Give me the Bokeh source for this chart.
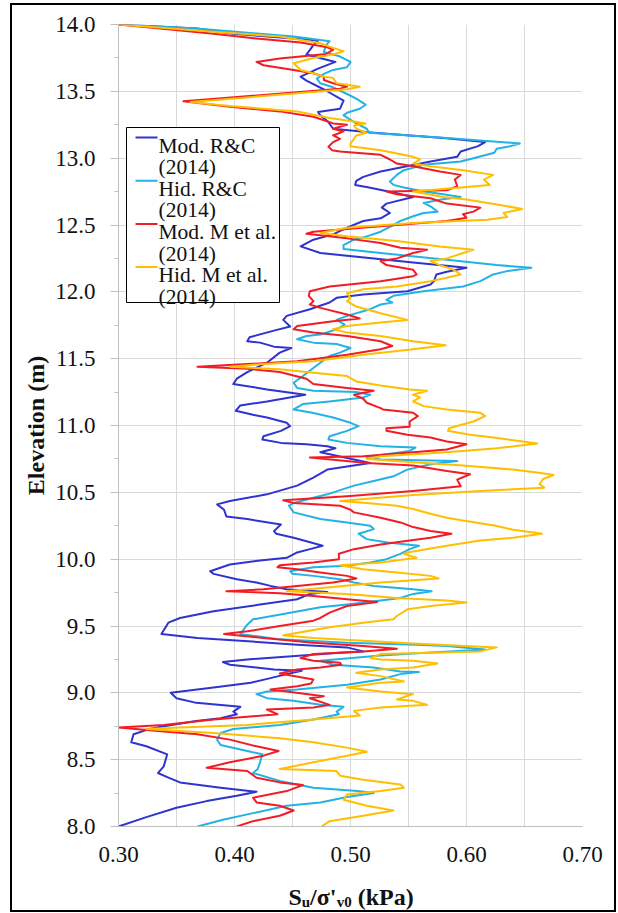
from bokeh.plotting import figure
from bokeh.layouts import column
from bokeh.models import FixedTicker, Range1d, NumeralTickFormatter
from bokeh.core.properties import value
from bokeh.embed import file_html
from bokeh.resources import INLINE

# ---------------- data ----------------
mod_rc_elev = [14.0, 13.97, 13.93, 13.895, 13.88, 13.845, 13.775, 13.72, 13.67, 13.61,
               13.58, 13.51, 13.43, 13.37, 13.345, 13.32, 13.27, 13.22, 13.19, 13.15,
               13.12, 13.09, 13.05, 13.01, 12.975, 12.90, 12.86, 12.83, 12.80, 12.78,
               12.74, 12.71, 12.66, 12.63, 12.59, 12.55, 12.53, 12.48, 12.43, 12.39,
               12.34, 12.29, 12.27, 12.22, 12.18, 12.15, 12.13, 12.08, 12.055, 12.005,
               11.98, 11.955, 11.92, 11.87, 11.82, 11.79, 11.74, 11.71, 11.66, 11.63,
               11.62, 11.59, 11.58, 11.545, 11.47, 11.42, 11.40, 11.35, 11.31, 11.30,
               11.27, 11.23, 11.18, 11.15, 11.11, 11.08, 11.06, 11.02, 10.995, 10.96,
               10.92, 10.895, 10.87, 10.86, 10.845, 10.83, 10.80, 10.72, 10.67, 10.61,
               10.55, 10.485, 10.435, 10.41, 10.37, 10.32, 10.30, 10.26, 10.21, 10.19,
               10.16, 10.125, 10.10, 10.075, 10.05, 10.01, 9.99, 9.96, 9.91, 9.89,
               9.85, 9.825, 9.80, 9.775, 9.755, 9.74, 9.70, 9.66, 9.61, 9.56,
               9.525, 9.44, 9.41, 9.39, 9.36, 9.34, 9.31, 9.30, 9.25, 9.23,
               9.21, 9.175, 9.165, 9.14, 9.11, 9.075, 9.04, 9.0, 8.96, 8.925,
               8.895, 8.86, 8.84, 8.81, 8.79, 8.75, 8.73, 8.69, 8.63, 8.60,
               8.54, 8.45, 8.40, 8.37, 8.33, 8.29, 8.26, 8.23, 8.19, 8.14,
               8.07, 8.0]
mod_rc = [0.300, 0.3675, 0.399, 0.451, 0.472, 0.468, 0.462, 0.487, 0.472, 0.457,
          0.462, 0.478, 0.494, 0.491, 0.472, 0.474, 0.481, 0.485, 0.520, 0.580,
          0.616, 0.610, 0.595, 0.592, 0.569, 0.526, 0.511, 0.505, 0.504, 0.516,
          0.539, 0.554, 0.531, 0.527, 0.534, 0.526, 0.511, 0.497, 0.485, 0.468,
          0.457, 0.474, 0.497, 0.554, 0.600, 0.583, 0.574, 0.572, 0.569, 0.549,
          0.511, 0.488, 0.482, 0.465, 0.445, 0.442, 0.448, 0.434, 0.413, 0.411,
          0.422, 0.434, 0.449, 0.439, 0.428, 0.416, 0.411, 0.402, 0.399, 0.407,
          0.428, 0.461, 0.428, 0.405, 0.401, 0.416, 0.428, 0.445, 0.448, 0.440,
          0.425, 0.424, 0.440, 0.462, 0.480, 0.487, 0.474, 0.517, 0.480, 0.468,
          0.454, 0.428, 0.396, 0.385, 0.391, 0.393, 0.411, 0.440, 0.434, 0.436,
          0.451, 0.466, 0.476, 0.465, 0.454, 0.445, 0.422, 0.396, 0.379, 0.382,
          0.402, 0.419, 0.431, 0.445, 0.480, 0.465, 0.454, 0.422, 0.382, 0.353,
          0.343, 0.337, 0.368, 0.405, 0.454, 0.497, 0.511, 0.491, 0.411, 0.390,
          0.396, 0.434, 0.458, 0.445, 0.431, 0.414, 0.382, 0.345, 0.350, 0.367,
          0.405, 0.399, 0.402, 0.388, 0.367, 0.339, 0.327, 0.313, 0.311, 0.324,
          0.342, 0.339, 0.334, 0.342, 0.353, 0.388, 0.419, 0.402, 0.376, 0.350,
          0.324, 0.300]

hid_rc_elev = [14.0, 13.97, 13.91, 13.875, 13.845, 13.795, 13.76, 13.72, 13.68, 13.66,
               13.63, 13.595, 13.56, 13.53, 13.48, 13.445, 13.40, 13.37, 13.34, 13.32,
               13.26, 13.22, 13.19, 13.15, 13.11, 13.09, 13.07, 13.04, 13.00, 12.975,
               12.95, 12.91, 12.875, 12.825, 12.80, 12.78, 12.75, 12.73, 12.71, 12.69,
               12.665, 12.64, 12.60, 12.59, 12.565, 12.53, 12.50, 12.45, 12.415, 12.39,
               12.35, 12.32, 12.29, 12.24, 12.20, 12.18, 12.155, 12.13, 12.08, 12.04,
               12.005, 11.97, 11.94, 11.92, 11.905, 11.87, 11.82, 11.79, 11.755, 11.72,
               11.68, 11.67, 11.645, 11.62, 11.61, 11.58, 11.545, 11.52, 11.47, 11.43,
               11.37, 11.32, 11.28, 11.26, 11.25, 11.23, 11.21, 11.18, 11.16, 11.12,
               11.095, 11.06, 11.02, 10.995, 10.96, 10.92, 10.895, 10.87, 10.845, 10.835,
               10.81, 10.78, 10.76, 10.745, 10.735, 10.71, 10.67, 10.62, 10.585, 10.55,
               10.485, 10.46, 10.42, 10.40, 10.35, 10.30, 10.275, 10.25, 10.225, 10.19,
               10.15, 10.125, 10.10, 10.075, 10.04, 10.00, 9.975, 9.95, 9.94, 9.91,
               9.89, 9.875, 9.85, 9.825, 9.80, 9.775, 9.76, 9.74, 9.71, 9.69,
               9.66, 9.64, 9.59, 9.55, 9.51, 9.44, 9.40, 9.375, 9.36, 9.35,
               9.325, 9.295, 9.28, 9.24, 9.21, 9.19, 9.16, 9.155, 9.14, 9.10,
               9.06, 9.025, 9.01, 8.99, 8.96, 8.94, 8.91, 8.895, 8.86, 8.84,
               8.80, 8.76, 8.73, 8.70, 8.65, 8.61, 8.565, 8.54, 8.48, 8.43,
               8.40, 8.34, 8.29, 8.265, 8.25, 8.22, 8.18, 8.155, 8.10, 8.05,
               8.00]
hid_rc = [0.300, 0.3675, 0.451, 0.482, 0.479, 0.477, 0.491, 0.500, 0.497, 0.485,
          0.477, 0.471, 0.474, 0.485, 0.497, 0.505, 0.513, 0.508, 0.497, 0.494,
          0.505, 0.514, 0.516, 0.583, 0.646, 0.638, 0.626, 0.624, 0.606, 0.595,
          0.563, 0.546, 0.540, 0.534, 0.537, 0.546, 0.563, 0.580, 0.595, 0.578,
          0.563, 0.569, 0.575, 0.563, 0.554, 0.543, 0.537, 0.526, 0.514, 0.503,
          0.494, 0.494, 0.526, 0.583, 0.626, 0.656, 0.635, 0.623, 0.612, 0.597,
          0.563, 0.537, 0.531, 0.536, 0.526, 0.517, 0.497, 0.488, 0.495, 0.488,
          0.474, 0.462, 0.454, 0.468, 0.488, 0.500, 0.491, 0.482, 0.474, 0.468,
          0.459, 0.451, 0.454, 0.468, 0.505, 0.517, 0.511, 0.482, 0.459, 0.451,
          0.467, 0.485, 0.500, 0.507, 0.497, 0.482, 0.481, 0.497, 0.526, 0.556,
          0.551, 0.526, 0.514, 0.526, 0.592, 0.569, 0.549, 0.537, 0.520, 0.503,
          0.480, 0.468, 0.451, 0.447, 0.451, 0.474, 0.497, 0.517, 0.520, 0.507,
          0.514, 0.532, 0.559, 0.551, 0.543, 0.531, 0.517, 0.497, 0.468, 0.448,
          0.450, 0.468, 0.491, 0.503, 0.520, 0.554, 0.570, 0.554, 0.543, 0.526,
          0.497, 0.474, 0.442, 0.416, 0.411, 0.405, 0.439, 0.497, 0.557, 0.583,
          0.616, 0.554, 0.526, 0.474, 0.485, 0.520, 0.543, 0.559, 0.543, 0.526,
          0.497, 0.454, 0.428, 0.419, 0.428, 0.451, 0.474, 0.494, 0.488, 0.490,
          0.468, 0.439, 0.399, 0.388, 0.385, 0.388, 0.411, 0.424, 0.422, 0.420,
          0.416, 0.439, 0.468, 0.506, 0.520, 0.497, 0.474, 0.445, 0.416, 0.390,
          0.368]

mod_m_elev = [14.0, 13.93, 13.895, 13.865, 13.83, 13.81, 13.78, 13.77, 13.745, 13.72,
              13.695, 13.66, 13.635, 13.61, 13.585, 13.56, 13.535, 13.52, 13.425, 13.385,
              13.35, 13.31, 13.26, 13.25, 13.22, 13.20, 13.17, 13.145, 13.12, 13.085,
              13.06, 13.05, 13.025, 12.99, 12.96, 12.94, 12.90, 12.875, 12.84, 12.79,
              12.76, 12.755, 12.75, 12.73, 12.70, 12.66, 12.63, 12.60, 12.58, 12.555,
              12.53, 12.49, 12.45, 12.435, 12.40, 12.365, 12.33, 12.315, 12.29, 12.25,
              12.23, 12.20, 12.165, 12.13, 12.117, 12.08, 12.04, 12.005, 11.97, 11.93,
              11.905, 11.88, 11.83, 11.80, 11.78, 11.745, 11.72, 11.695, 11.67, 11.63,
              11.595, 11.57, 11.53, 11.48, 11.46, 11.44, 11.425, 11.40, 11.35, 11.31,
              11.28, 11.26, 11.23, 11.20, 11.17, 11.13, 11.12, 11.095, 11.07, 11.03,
              10.99, 10.98, 10.96, 10.93, 10.91, 10.88, 10.86, 10.82, 10.80, 10.77,
              10.76, 10.72, 10.70, 10.66, 10.635, 10.595, 10.545, 10.51, 10.47, 10.44,
              10.42, 10.40, 10.37, 10.35, 10.31, 10.275, 10.24, 10.21, 10.19, 10.16,
              10.14, 10.11, 10.075, 10.04, 10.00, 9.975, 9.955, 9.94, 9.925, 9.90,
              9.875, 9.855, 9.825, 9.80, 9.775, 9.76, 9.745, 9.725, 9.70, 9.68,
              9.65, 9.60, 9.56, 9.54, 9.50, 9.46, 9.44, 9.41, 9.375, 9.35,
              9.33, 9.31, 9.29, 9.26, 9.24, 9.225, 9.21, 9.19, 9.175, 9.145,
              9.10, 9.07, 9.05, 9.025, 9.01, 8.975, 8.96, 8.91, 8.89, 8.875,
              8.84, 8.80, 8.76, 8.74, 8.71, 8.69, 8.65, 8.60, 8.565, 8.53,
              8.48, 8.44, 8.415, 8.365, 8.33, 8.31, 8.265, 8.215, 8.18, 8.155,
              8.12, 8.08, 8.04, 8.00]
mod_m = [0.300, 0.382, 0.419, 0.457, 0.480, 0.485, 0.479, 0.468, 0.439, 0.419,
         0.425, 0.451, 0.468, 0.477, 0.477, 0.485, 0.497, 0.491, 0.356, 0.396,
         0.439, 0.468, 0.485, 0.497, 0.485, 0.494, 0.485, 0.491, 0.485, 0.481,
         0.484, 0.491, 0.526, 0.534, 0.540, 0.554, 0.577, 0.595, 0.590, 0.592,
         0.583, 0.554, 0.531, 0.540, 0.569, 0.583, 0.612, 0.606, 0.597, 0.600,
         0.583, 0.526, 0.468, 0.462, 0.497, 0.526, 0.543, 0.566, 0.554, 0.540,
         0.526, 0.531, 0.554, 0.557, 0.554, 0.526, 0.482, 0.465, 0.464, 0.468,
         0.465, 0.474, 0.497, 0.508, 0.485, 0.454, 0.451, 0.468, 0.497, 0.526,
         0.536, 0.526, 0.497, 0.454, 0.411, 0.368, 0.411, 0.439, 0.462, 0.468,
         0.497, 0.520, 0.503, 0.511, 0.514, 0.526, 0.528, 0.554, 0.558, 0.551,
         0.551, 0.531, 0.531, 0.549, 0.569, 0.583, 0.600, 0.583, 0.554, 0.511,
         0.465, 0.514, 0.554, 0.583, 0.603, 0.592, 0.595, 0.554, 0.497, 0.442,
         0.451, 0.491, 0.500, 0.503, 0.526, 0.543, 0.554, 0.569, 0.587, 0.569,
         0.551, 0.526, 0.503, 0.490, 0.490, 0.468, 0.439, 0.437, 0.454, 0.474,
         0.497, 0.505, 0.485, 0.454, 0.425, 0.393, 0.439, 0.468, 0.497, 0.523,
         0.497, 0.482, 0.474, 0.468, 0.439, 0.411, 0.391, 0.425, 0.468, 0.511,
         0.540, 0.511, 0.468, 0.457, 0.468, 0.491, 0.492, 0.474, 0.454, 0.439,
         0.468, 0.466, 0.454, 0.431, 0.445, 0.477, 0.465, 0.482, 0.468, 0.428,
         0.437, 0.382, 0.339, 0.300, 0.339, 0.368, 0.396, 0.419, 0.438, 0.425,
         0.396, 0.376, 0.411, 0.419, 0.439, 0.459, 0.445, 0.416, 0.419, 0.439,
         0.451, 0.439, 0.416, 0.402]

hid_m_elev = [14.0, 13.945, 13.91, 13.86, 13.825, 13.80, 13.775, 13.75, 13.71, 13.66,
              13.635, 13.61, 13.60, 13.56, 13.55, 13.535, 13.515, 13.42, 13.39, 13.35,
              13.30, 13.275, 13.26, 13.245, 13.22, 13.19, 13.17, 13.145, 13.11, 13.09,
              13.06, 13.01, 12.99, 12.96, 12.94, 12.91, 12.875, 12.84, 12.80, 12.78,
              12.75, 12.71, 12.69, 12.65, 12.62, 12.59, 12.56, 12.54, 12.515, 12.48,
              12.44, 12.415, 12.38, 12.34, 12.315, 12.29, 12.25, 12.23, 12.20, 12.165,
              12.13, 12.10, 12.08, 12.04, 12.02, 11.99, 11.955, 11.93, 11.89, 11.84,
              11.79, 11.77, 11.745, 11.72, 11.695, 11.67, 11.63, 11.60, 11.57, 11.53,
              11.48, 11.46, 11.44, 11.42, 11.395, 11.37, 11.33, 11.30, 11.27, 11.26,
              11.23, 11.21, 11.18, 11.145, 11.12, 11.095, 11.07, 11.03, 10.98, 10.96,
              10.93, 10.91, 10.865, 10.83, 10.80, 10.77, 10.75, 10.725, 10.70, 10.67,
              10.645, 10.63, 10.60, 10.56, 10.535, 10.51, 10.48, 10.435, 10.42, 10.40,
              10.375, 10.34, 10.31, 10.29, 10.25, 10.22, 10.20, 10.19, 10.16, 10.14,
              10.10, 10.05, 10.04, 10.01, 9.975, 9.955, 9.925, 9.90, 9.875, 9.855,
              9.825, 9.79, 9.76, 9.74, 9.71, 9.69, 9.675, 9.65, 9.625, 9.575,
              9.55, 9.525, 9.49, 9.43, 9.41, 9.39, 9.37, 9.34, 9.31, 9.29,
              9.26, 9.25, 9.24, 9.22, 9.19, 9.175, 9.15, 9.125, 9.085, 9.075,
              9.04, 9.01, 8.99, 8.95, 8.94, 8.91, 8.89, 8.865, 8.83, 8.80,
              8.76, 8.74, 8.73, 8.70, 8.66, 8.63, 8.59, 8.56, 8.53, 8.48,
              8.43, 8.415, 8.38, 8.35, 8.315, 8.29, 8.265, 8.24, 8.20, 8.155,
              8.12, 8.08, 8.04, 8.00]
hid_m = [0.300, 0.382, 0.439, 0.474, 0.485, 0.494, 0.485, 0.468, 0.451, 0.457,
         0.468, 0.477, 0.485, 0.488, 0.497, 0.508, 0.497, 0.362, 0.396, 0.454,
         0.482, 0.503, 0.513, 0.503, 0.505, 0.514, 0.505, 0.503, 0.500, 0.500,
         0.526, 0.554, 0.560, 0.554, 0.569, 0.597, 0.623, 0.615, 0.620, 0.595,
         0.554, 0.580, 0.600, 0.629, 0.648, 0.632, 0.635, 0.618, 0.554, 0.497,
         0.474, 0.497, 0.540, 0.577, 0.606, 0.597, 0.583, 0.569, 0.577, 0.589,
         0.595, 0.580, 0.569, 0.540, 0.511, 0.497, 0.500, 0.497, 0.505, 0.526,
         0.549, 0.526, 0.497, 0.485, 0.497, 0.526, 0.554, 0.582, 0.554, 0.511,
         0.468, 0.425, 0.396, 0.439, 0.468, 0.497, 0.505, 0.526, 0.551, 0.566,
         0.554, 0.560, 0.554, 0.563, 0.583, 0.612, 0.616, 0.606, 0.585, 0.584,
         0.603, 0.623, 0.661, 0.626, 0.583, 0.526, 0.514, 0.554, 0.597, 0.640,
         0.664, 0.675, 0.666, 0.663, 0.667, 0.612, 0.554, 0.491, 0.514, 0.540,
         0.554, 0.569, 0.583, 0.597, 0.625, 0.640, 0.658, 0.665, 0.640, 0.612,
         0.583, 0.549, 0.546, 0.557, 0.526, 0.491, 0.511, 0.540, 0.569, 0.576,
         0.526, 0.482, 0.445, 0.497, 0.540, 0.583, 0.600, 0.569, 0.549, 0.540,
         0.537, 0.511, 0.482, 0.442, 0.468, 0.511, 0.554, 0.626, 0.612, 0.526,
         0.517, 0.526, 0.554, 0.575, 0.554, 0.526, 0.505, 0.526, 0.546, 0.526,
         0.497, 0.526, 0.554, 0.540, 0.554, 0.566, 0.526, 0.503, 0.508, 0.468,
         0.411, 0.353, 0.324, 0.382, 0.439, 0.468, 0.497, 0.514, 0.497, 0.468,
         0.439, 0.488, 0.491, 0.511, 0.543, 0.546, 0.526, 0.497, 0.494, 0.514,
         0.537, 0.511, 0.482, 0.475]

series_names = ["Mod. R&C", "Hid. R&C", "Mod. M et al.", "Hid. M et al."]
series_year = "(2014)"
series_colors = ["#2f33cf", "#22b2e6", "#f21c24", "#ffbf00"]

x_ticks = [0.30, 0.40, 0.50, 0.60, 0.70]
x_minor = [0.35, 0.45, 0.55, 0.65]
y_ticks = [8.0, 8.5, 9.0, 9.5, 10.0, 10.5, 11.0, 11.5, 12.0, 12.5, 13.0, 13.5, 14.0]
y_minor = [8.25, 8.75, 9.25, 9.75, 10.25, 10.75, 11.25, 11.75, 12.25, 12.75, 13.25, 13.75]

# x-axis title pieces: (text, is_subscript)
xlabel_parts = [("S", False), ("u", True), ("/\u03c3'", False), ("v0", True), ("(kPa)", False)]

# ---------------- layout constants (pixels) ----------------
FONT = "Liberation Serif"
TXT = "#111111"
X0, X1, Y0, Y1 = 0.30, 0.70, 8.0, 14.0
FW, FH = 464, 802


def dx(px):
    """horizontal pixel offset from frame left -> data x"""
    return X0 + (X1 - X0) * px / FW


def dy(py):
    """vertical pixel offset from frame top -> data y"""
    return Y1 - (Y1 - Y0) * py / FH


# ---------------- main figure ----------------
p = figure(frame_width=FW, frame_height=FH,
           min_border_left=106, min_border_right=32,
           min_border_top=19, min_border_bottom=50,
           x_range=Range1d(X0, X1), y_range=Range1d(Y0, Y1),
           output_backend="svg", toolbar_location=None)
p.outline_line_color = None
p.background_fill_color = "white"
p.border_fill_color = "white"

for xs, ys, c in [(mod_rc, mod_rc_elev, series_colors[0]),
                  (hid_rc, hid_rc_elev, series_colors[1]),
                  (mod_m, mod_m_elev, series_colors[2]),
                  (hid_m, hid_m_elev, series_colors[3])]:
    p.line(xs, ys, line_color=c, line_width=2.0, line_join="round")

xax = p.xaxis[0]
yax = p.yaxis[0]
xax.ticker = FixedTicker(ticks=x_ticks, minor_ticks=x_minor)
yax.ticker = FixedTicker(ticks=y_ticks, minor_ticks=y_minor)
xax.formatter = NumeralTickFormatter(format="0.00")
yax.formatter = NumeralTickFormatter(format="0.0")

for ax in (xax, yax):
    ax.axis_line_color = "#bfbfbf"
    ax.axis_line_width = 1
    ax.major_tick_line_color = "#bfbfbf"
    ax.minor_tick_line_color = "#bfbfbf"
    ax.major_tick_in = 0
    ax.minor_tick_in = 0
    ax.major_label_text_font = FONT
    ax.major_label_text_font_size = "23px"
    ax.major_label_text_color = TXT

yax.major_tick_out = 8
yax.minor_tick_out = 4
yax.major_label_standoff = 15
xax.major_tick_out = 0
xax.minor_tick_out = 0
xax.major_label_standoff = 20

yax.axis_label = "Elevation (m)"
yax.axis_label_text_font = FONT
yax.axis_label_text_font_style = "bold"
yax.axis_label_text_font_size = "24px"
yax.axis_label_text_color = TXT
yax.axis_label_standoff = 3

p.xgrid.grid_line_color = "#d9d9d9"
p.xgrid.minor_grid_line_color = "#d9d9d9"
p.ygrid.grid_line_color = "#d9d9d9"

# ---------------- legend box (drawn inside the frame) ----------------
LEG_L, LEG_R, LEG_T, LEG_B = 8, 161, 103, 278
ROW0, PITCH = 121, 21.6
p.quad(left=[dx(LEG_L)], right=[dx(LEG_R)], top=[dy(LEG_T)], bottom=[dy(LEG_B)],
       fill_color="white", line_color="black", line_width=1)
leg_text, leg_tx, leg_ty = [], [], []
for i, name in enumerate(series_names):
    base = ROW0 + 2 * i * PITCH
    p.segment(x0=[dx(17)], x1=[dx(39)], y0=[dy(base - 8)], y1=[dy(base - 8)],
              line_color=series_colors[i], line_width=2)
    leg_text += [name, series_year]
    leg_tx += [dx(40), dx(40)]
    leg_ty += [dy(base), dy(base + PITCH)]
p.text(x=leg_tx, y=leg_ty, text=leg_text, text_font=value(FONT),
       text_font_size="21.5px", text_color=TXT, text_baseline="alphabetic",
       text_align="left")

# ---------------- x-axis title strip (real sub-scripts) ----------------
QH = 34
q = figure(frame_width=FW, frame_height=QH,
           min_border_left=106, min_border_right=32,
           min_border_top=0, min_border_bottom=0,
           x_range=Range1d(0, FW), y_range=Range1d(0, QH),
           x_axis_location=None, y_axis_location=None,
           output_backend="svg", toolbar_location=None)
q.outline_line_color = None
q.grid.visible = False
q.border_fill_color = "white"
q.background_fill_color = "white"

px = 170.0
advance = {"S": 13.3, "u": 8.3, "/\u03c3'": 26.6, "v0": 21.0}
for txt, sub in xlabel_parts:
    q.text(x=[px], y=[9 if sub else 14], text=[txt],
           text_font=value(FONT), text_font_style="bold",
           text_font_size="15px" if sub else "24px",
           text_color=TXT, text_baseline="alphabetic", text_align="left")
    px += advance.get(txt, 0)

layout = column(p, q, spacing=0)
layout.margin = (3, 0, 0, 10)
layout.styles = {"border": "2px solid #000000"}

open("out.html", "w").write(file_html(layout, INLINE))
